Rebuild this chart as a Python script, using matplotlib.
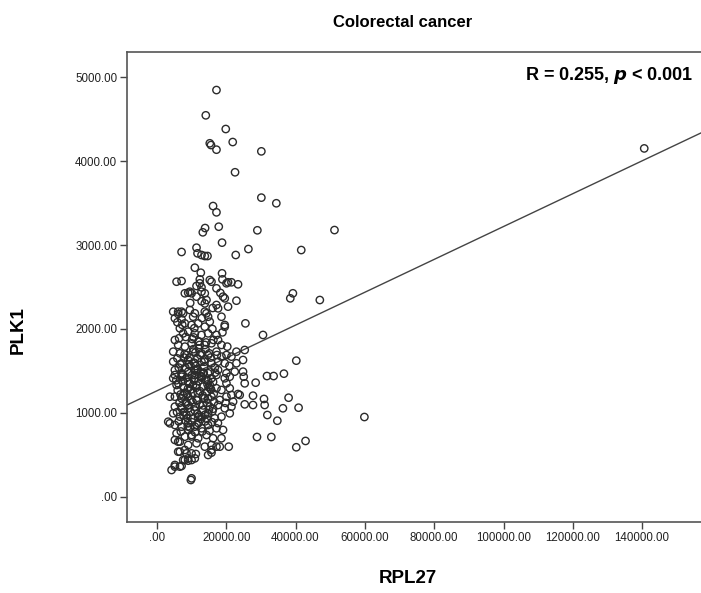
import numpy as np
import matplotlib
matplotlib.use("Agg")
import matplotlib.pyplot as plt
from matplotlib.ticker import FuncFormatter

plt.rcParams['font.family'] = ['Liberation Sans', 'DejaVu Sans']

# RPL27 expression (x) and PLK1 expression (y)
rpl27 = [
    # sparse / upper points
    17180, 14100, 19860, 15250, 15600, 21870, 17180, 30130, 22540, 30130,
    34450, 16200, 17180, 17840, 13900, 13240, 28980, 51230, 18790, 41640,
    7110, 11420, 11710, 12860, 13810, 14590, 26390, 22740, 10940, 12660,
    18790, 39230, 38480, 47000, 140600,
    # middle band
    5670, 7110, 15740, 15250, 20520, 23400, 12380, 17180, 9500, 8060,
    9990, 12860, 13810, 19080, 22940, 14300, 11420, 17180, 17650, 20520,
    4700, 7110, 6130, 9500, 10450, 14300, 14770, 18620, 25530, 30600,
    19570, 25330, 24840, 22940, 40210, 31750, 33670, 36640, 24840, 25040,
    28490, 23400, 27720, 30890, 31080, 37990, 25330, 27720, 36350, 40870,
    31860, 34740, 28870, 33010, 40210, 42880, 59860,
    # lower points
    4230, 5180, 7110, 9790, 7570, 9010, 9990, 6620, 8540, 11220,
    14770, 15740, 18130, 20720, 5180, 6130, 17180, 3740, 4700,
    12380, 18900, 21500,
    # upper cluster
    11420, 12860, 9010, 20060, 19570, 13810, 13810, 6130, 7570, 10940,
    5180, 7110, 19570, 8060, 9990, 11900, 13810, 15250, 6620, 7570,
    9010, 10940, 12860, 14770, 17180, 17650, 18620, 5180, 6130, 8060,
    9990, 11900, 13810, 15740, 22940, 20060, 21500, 4700, 6620, 8540,
    10450, 12860, 14770, 17180, 18620, 4700, 7110, 9010, 10940, 12860,
    15740, 17650, 19570, 5180, 7110, 9010, 11420, 13330, 15250, 17650,
    20060, 22450, 4700, 10940, 15740, 19570,
    # lower cluster
    3740, 5180, 7110, 10940, 12860, 14770, 17180, 21010, 25330, 20060,
    21010, 21500, 21980, 20060, 23890, 5670, 7570, 9010, 11420, 13330,
    15250, 17180, 18620, 5180, 7110, 9010, 11420, 13810, 15740, 18130,
    5180, 7110, 9010, 10940, 13330, 15250, 17650, 19570, 21500, 3260,
    6620, 8540, 10450, 12860, 14770, 16690, 18620, 21010, 5180, 7110,
    9010, 10940, 12860, 14770, 17180, 19080, 5670, 8060, 9990, 11900,
    14300, 16200, 18620, 6620, 9010, 11420, 13810, 15740, 6130, 8060,
    9990, 10940, 15740, 5180, 6620, 8060, 9010, 9990,
    # dense core
    6400, 8300, 10200, 12100, 14000, 16300, 5900, 7800, 9700, 11700,
    13600, 15500, 16700, 6300, 8200, 10100, 12000, 14100, 16200, 5600,
    7500, 9400, 12400, 14400, 16400, 6000, 8000, 10300, 6500, 8400,
    10300, 12300, 14500, 16500, 5800, 7700, 9700, 11700, 13900, 16000,
    6300, 8200, 10100, 12000, 13900, 15900, 6900, 9100, 11000, 13100,
    15200, 17600, 19800, 20900, 20300, 18900, 7300, 10800, 13000, 16000,
    9600, 12900, 16100, 18300, 5900, 11100, 8700, 13400, 10600, 7200,
    12600, 9300, 14900, 6800, 11900, 8900, 15100, 10400, 12200, 7900,
    # extra core points
    8600, 10700, 12700, 14600, 9800, 11300, 13200, 7400, 15400, 11800,
    9200, 13700, 8000, 12500, 10500, 14200, 6700, 11600, 9900, 13300,
    7100, 10900, 12800, 15000, 8800, 11500, 14700, 9500, 12100, 10000,
    16800, 7600, 13500, 11200, 9000, 14800, 12300, 10600, 8400, 13800,
    15600, 17300, 6200, 11800, 9400, 12900, 10800, 14400, 7700, 16200,
]
plk1 = [
    4845, 4544, 4381, 4211, 4190, 4226, 4135, 4115, 3866, 3564,
    3497, 3464, 3389, 3218, 3202, 3151, 3175, 3178, 3028, 2940,
    2917, 2968, 2901, 2881, 2869, 2869, 2952, 2881, 2730, 2670,
    2663, 2425, 2365, 2345, 4150,
    2563, 2571, 2563, 2583, 2556, 2532, 2544, 2484, 2444, 2425,
    2425, 2444, 2425, 2385, 2337, 2345, 2385, 2286, 2246, 2266,
    2206, 2206, 2179, 2226, 2146, 2187, 2146, 2146, 2067, 1929,
    2027, 1750, 1631, 1592, 1623, 1440, 1440, 1468, 1492, 1432,
    1361, 1226, 1206, 1167, 1095, 1182, 1103, 1095, 1056, 1063,
    976, 908, 714, 714, 592, 667, 952,
    321, 361, 369, 202, 440, 432, 440, 539, 519, 512,
    500, 528, 599, 599, 679, 658, 599, 877, 996,
    2591, 2591, 2556,
    2512, 2496, 2432, 2544, 2365, 2305, 2206, 2206, 2187, 2187,
    2127, 2115, 2048, 2067, 2048, 2067, 2027, 2087, 2008, 1948,
    1968, 1948, 1929, 1948, 1929, 1869, 1810, 1869, 1810, 1790,
    1830, 1849, 1810, 1830, 1730, 1690, 1671, 1730, 1710, 1690,
    1730, 1710, 1690, 1730, 1671, 1611, 1592, 1631, 1592, 1611,
    1592, 1611, 1592, 1512, 1473, 1492, 1512, 1473, 1492, 1512,
    1473, 1492, 1413, 1413, 1413, 1413,
    1194, 1452, 1432, 1452, 1432, 1473, 1452, 1432, 1353, 1353,
    1294, 1214, 1135, 1194, 1214, 1333, 1313, 1294, 1333, 1313,
    1333, 1294, 1274, 1194, 1175, 1194, 1155, 1175, 1194, 1155,
    1075, 1056, 1095, 1075, 1036, 1075, 1095, 1056, 1075, 896,
    956, 976, 937, 956, 996, 937, 956, 996, 857, 837,
    877, 837, 818, 857, 818, 798, 758, 718, 738, 699,
    738, 699, 699, 659, 619, 639, 599, 619, 539, 560,
    519, 460, 560, 381, 361, 440, 460, 222,
    1890, 1905, 1880, 1770, 1760, 1870, 1650, 1660, 1560, 1650,
    1550, 1660, 1540, 1540, 1540, 1450, 1380, 1400, 1370, 1390,
    1380, 1350, 1260, 1250, 1230, 1270, 1240, 1240, 1120, 1130,
    1130, 1100, 1120, 1130, 1010, 1010, 1010, 990, 980, 1020,
    900, 910, 890, 880, 900, 890, 780, 800, 770, 780,
    790, 880, 1120, 1560, 1790, 1960, 2050, 2010, 2130, 2000,
    2310, 2330, 2250, 2430, 2080, 1720, 1230, 1180, 1600, 1450,
    1480, 1060, 1310, 1220, 950, 840, 1710, 1330, 1850, 1010,
    1420, 1390, 1440, 1340, 1280, 1300, 1210, 1460, 1290, 1520,
    1580, 1610, 1700, 1690, 1760, 1840, 1580, 1150, 1150, 1090,
    1080, 1030, 930, 1040, 940, 860, 1170, 830, 970, 720,
    1480, 1210, 1480, 1560, 1370, 1380, 1810, 1900, 1110, 1640,
    1280, 1690, 1350, 1240, 1660, 1420, 1510, 930, 970, 1050,
]

# fit line as drawn in the reference
fit_intercept = 1264.0
fit_slope = 0.01956

x_ticks = [0, 20000, 40000, 60000, 80000, 100000, 120000, 140000]
y_ticks = [0, 1000, 2000, 3000, 4000, 5000]


def spss_fmt(v, pos):
    s = f"{v:.2f}"
    if s.startswith("0."):
        s = s[1:]
    return s


fig = plt.figure(figsize=(7.01, 5.93), dpi=100)
ax = fig.add_axes([127 / 701, 1 - 522 / 593, 1 - 127 / 701 + 0.01, (522 - 52) / 593])

ax.scatter(rpl27, plk1, s=28, facecolors='none', edgecolors='#2b2b2b', linewidths=1.0, zorder=3)

xlo, xhi = -8633, 159000
xs = np.array([xlo, xhi])
ax.plot(xs, fit_intercept + fit_slope * xs, color='#444444', lw=1.0, zorder=2)

ax.set_xlim(xlo, xhi)
ax.set_ylim(-298, 5298)
ax.set_xticks(x_ticks)
ax.set_yticks(y_ticks)
ax.xaxis.set_major_formatter(FuncFormatter(spss_fmt))
ax.yaxis.set_major_formatter(FuncFormatter(spss_fmt))
ax.tick_params(direction='out', length=5, width=1, color='#444444', labelsize=8.3, pad=2,
               labelcolor='#222222')
for side in ['left', 'bottom', 'top']:
    ax.spines[side].set_color('#555555')
    ax.spines[side].set_linewidth(1.2)
ax.spines['right'].set_visible(False)

fig.text(0.575, 0.962, 'Colorectal cancer', ha='center', va='center', fontsize=12, fontweight='bold')
fig.text(0.582, 0.025, 'RPL27', ha='center', va='center', fontsize=13.5, fontweight='bold')
fig.text(0.026, 0.443, 'PLK1', ha='center', va='center', fontsize=13.5, fontweight='bold', rotation=90)
fig.text(693 / 701, 1 - 76 / 593, r'R = 0.255, $\boldsymbol{p}$ < 0.001', ha='right', va='center',
         fontsize=13, fontweight='bold')

fig.savefig('out.png', dpi=100)
